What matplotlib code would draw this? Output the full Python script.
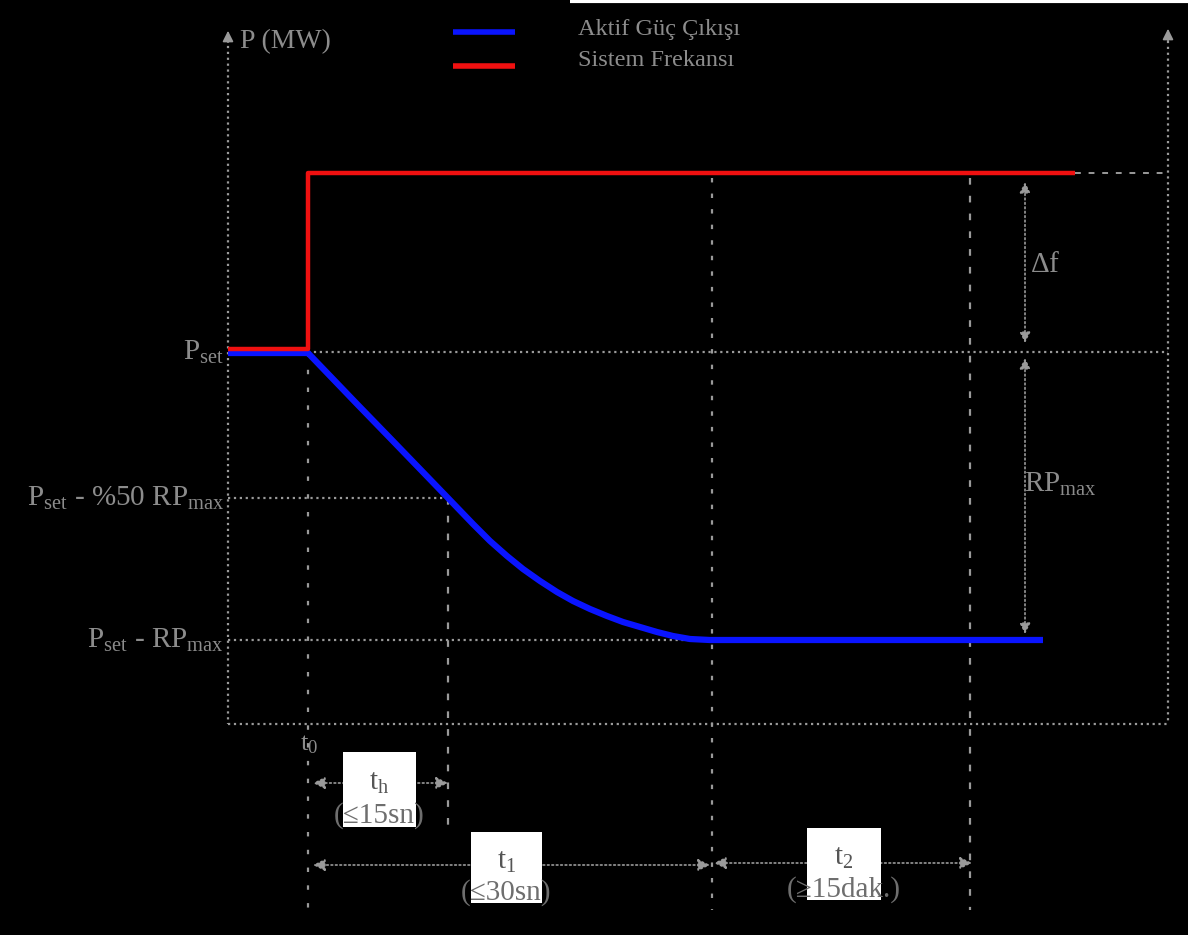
import matplotlib.pyplot as plt
from matplotlib.patches import Rectangle

plt.rcParams['font.family'] = ['Liberation Serif', 'DejaVu Serif']
plt.rcParams['mathtext.fontset'] = 'custom'
plt.rcParams['mathtext.rm'] = 'Liberation Serif'
plt.rcParams['mathtext.it'] = 'Liberation Serif'
plt.rcParams['mathtext.default'] = 'regular'

# schematic, in image units (x = time, y = power, downward)
red_t = [228, 308, 308, 1075]
red_p = [349, 349, 173, 173]
blue_t = [228, 308, 357, 390, 447, 473, 490, 507, 523, 540, 557, 573, 590,
          607, 623, 640, 657, 673, 690, 710, 1043]
blue_p = [353, 353, 404, 438, 497, 524, 541, 556, 569, 581, 592, 601, 609,
          616, 622, 627, 632, 636, 639, 640, 640]

t_marks = [308, 448, 712, 970]          # t0, th, t1 end, t2 end
p_levels = [173, 352, 498, 640]         # f level, P_set, P_set-50%RP, P_set-RP
p_labels = [r'$P_{set}$', r'$P_{set}$ - %50 $RP_{max}$', r'$P_{set}$ - $RP_{max}$']
span_labels = [r'$t_h$', r'$t_1$', r'$t_2$']
span_notes = ['(≤15sn)', '(≤30sn)', '(≥15dak.)']
legend_labels = ['Aktif Güç Çıkışı', 'Sistem Frekansı']

GRAY = '#9a9a9a'
TXT = '#8c8c8c'

fig = plt.figure(figsize=(11.88, 9.35), dpi=100, facecolor='black')
ax = fig.add_axes([0, 0, 1, 1], facecolor='black')
ax.set_xlim(0, 1188)
ax.set_ylim(935, 0)
ax.axis('off')

# axes frame
ax.plot([228, 228], [40, 724], color=GRAY, ls=':', lw=1.6)
ax.plot([228, 1168], [724, 724], color=GRAY, ls=':', lw=1.6)
ax.plot([1168, 1168], [35, 724], color=GRAY, ls=':', lw=1.6)
ax.annotate('', xy=(228, 28), xytext=(228, 45),
            arrowprops=dict(arrowstyle='-|>', color=GRAY, lw=1.2, mutation_scale=16))
ax.annotate('', xy=(1168, 26), xytext=(1168, 45),
            arrowprops=dict(arrowstyle='-|>', color=GRAY, lw=1.2, mutation_scale=16))
ax.text(240, 42, 'P (MW)', color=TXT, fontsize=20, va='center', ha='left')
ax.plot([570, 1188], [1, 1], color='white', lw=3, solid_capstyle='butt')

# guide lines
ax.plot([t_marks[0], 1168], [p_levels[1], p_levels[1]], color=GRAY, ls=':', lw=1.6)
ax.plot([228, t_marks[1]], [p_levels[2], p_levels[2]], color=GRAY, ls=':', lw=1.6)
ax.plot([228, t_marks[2]], [p_levels[3], p_levels[3]], color=GRAY, ls=':', lw=1.6)
ax.plot([1075, 1168], [p_levels[0], p_levels[0]], color=GRAY, ls=(0, (3, 4)), lw=1.4)
ax.plot([t_marks[0], t_marks[0]], [p_levels[1], 910], color=GRAY, ls=(0, (2, 6)), lw=1.6)
ax.plot([t_marks[1], t_marks[1]], [p_levels[2], 835], color=GRAY, ls=(0, (3, 5)), lw=1.6)
ax.plot([t_marks[2], t_marks[2]], [p_levels[0] + 5, 910], color=GRAY, ls=(0, (2, 5)), lw=1.6)
ax.plot([t_marks[3], t_marks[3]], [p_levels[0] + 5, 910], color=GRAY, ls=(0, (3, 5)), lw=1.6)

# curves
ax.plot(blue_t, blue_p, color='#0a14ff', lw=4.5, solid_capstyle='butt', solid_joinstyle='round')
ax.plot(red_t, red_p, color='#f01010', lw=3.2, solid_capstyle='butt')

# level labels
for y, lab in zip(p_levels[1:], p_labels):
    ax.text(224, y, lab, color=TXT, fontsize=21, ha='right', va='center')
ax.text(300, 745, r'$t_0$', color=TXT, fontsize=19, ha='left', va='center')

# delta f and RP_max arrows
arr = dict(arrowstyle='<|-|>', color=GRAY, lw=1.2, ls=':', mutation_scale=16, shrinkA=0, shrinkB=0)
ax.annotate('', xy=(1025, 182), xytext=(1025, 343), arrowprops=arr)
ax.annotate('', xy=(1025, 358), xytext=(1025, 634), arrowprops=arr)
ax.text(1030, 265, r'$\Delta f$', color=TXT, fontsize=21, ha='left', va='center')
ax.text(1024, 484, r'$RP_{max}$', color=TXT, fontsize=21, ha='left', va='center')

# time span arrows with white label boxes
spans = [(313, 448, 783), (313, 710, 865), (714, 972, 863)]
boxes = [(343, 752, 73, 75), (471, 832, 71, 71), (807, 828, 74, 72)]
for (x0, x1, y), (bx, by, bw, bh), lab, note in zip(spans, boxes, span_labels, span_notes):
    ax.annotate('', xy=(x0, y), xytext=(x1, y),
                arrowprops=dict(arrowstyle='<|-|>', color=GRAY, lw=1.2, ls=':',
                                mutation_scale=18, shrinkA=0, shrinkB=0))
    ax.add_patch(Rectangle((bx, by), bw, bh, facecolor='white', edgecolor='none', zorder=3))
    cx = bx + bw / 2
    ax.text(cx, by + bh * 0.42, lab, color='#555555', fontsize=21, ha='center', va='center', zorder=4)
    ax.text(cx, by + bh * 0.85, note, color='#6e6e6e', fontsize=21, ha='center', va='center', zorder=4)

# legend
ax.plot([453, 515], [32, 32], color='#0a14ff', lw=4, solid_capstyle='butt')
ax.plot([453, 515], [66, 66], color='#f01010', lw=4, solid_capstyle='butt')
ax.text(578, 30, legend_labels[0], color=TXT, fontsize=17.5, ha='left', va='center')
ax.text(578, 60, legend_labels[1], color=TXT, fontsize=17.5, ha='left', va='center')

fig.savefig('out.png', dpi=100, facecolor='black')
